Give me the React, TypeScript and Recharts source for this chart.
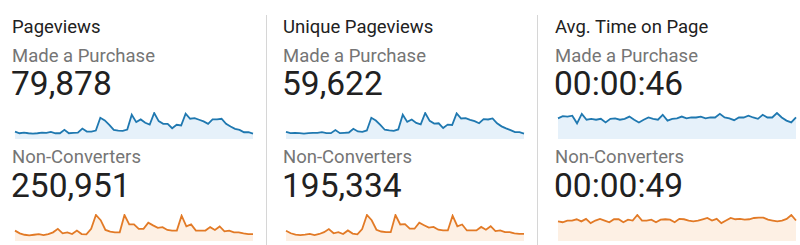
import { AreaChart, Area, XAxis, YAxis } from "recharts";

// daily values
const pageviewsPurchase = [22, 17, 19, 17, 16, 17, 19, 18, 21, 17, 17, 27, 17, 18, 19, 31, 22, 22, 25, 63, 55, 42, 27, 25, 24, 28, 72, 50, 58, 48, 43, 77, 53, 45, 45, 32, 42, 40, 75, 60, 62, 57, 52, 45, 58, 58, 60, 45, 37, 30, 27, 20, 20, 16];
const pageviewsNonConv = [30, 22, 18, 16, 18, 20, 17, 20, 25, 35, 22, 25, 20, 30, 20, 19, 35, 75, 60, 32, 27, 25, 25, 75, 48, 48, 35, 35, 53, 45, 38, 40, 32, 30, 30, 73, 42, 48, 30, 30, 30, 40, 32, 42, 28, 30, 25, 25, 22, 20, 20];
const uniquePurchase = [21, 17, 18, 17, 16, 17, 18, 18, 20, 17, 17, 26, 17, 18, 19, 30, 22, 21, 25, 62, 54, 41, 27, 25, 24, 28, 71, 50, 57, 47, 43, 76, 53, 45, 46, 32, 42, 41, 75, 60, 61, 56, 52, 46, 58, 57, 60, 46, 37, 31, 26, 20, 20, 16];
const uniqueNonConv = [29, 22, 18, 17, 18, 20, 17, 20, 25, 34, 22, 25, 20, 30, 21, 19, 34, 74, 59, 32, 27, 25, 25, 74, 47, 48, 35, 35, 52, 45, 38, 40, 32, 30, 30, 72, 42, 47, 30, 30, 30, 40, 32, 42, 28, 30, 25, 25, 22, 20, 20];
const timePurchase = [46, 51, 50, 52, 35, 56, 43, 45, 43, 45, 37, 45, 46, 43, 45, 50, 43, 37, 43, 48, 45, 43, 54, 41, 45, 46, 50, 46, 48, 48, 50, 46, 48, 48, 56, 48, 46, 42, 48, 48, 52, 48, 45, 54, 48, 48, 58, 48, 41, 37, 48];
const timeNonConv = [46, 44, 48, 48, 51, 46, 52, 42, 48, 52, 48, 44, 51, 51, 44, 50, 48, 61, 48, 48, 50, 44, 50, 51, 50, 44, 52, 51, 48, 46, 48, 51, 54, 48, 52, 42, 48, 54, 51, 52, 50, 51, 54, 55, 55, 50, 48, 46, 48, 52, 61, 48];

const titles = ["Pageviews", "Unique Pageviews", "Avg. Time on Page"];
const segments = ["Made a Purchase", "Non-Converters"];
const totals = [
  ["79,878", "250,951"],
  ["59,622", "195,334"],
  ["00:00:46", "00:00:49"],
];
const series = [
  [pageviewsPurchase, pageviewsNonConv],
  [uniquePurchase, uniqueNonConv],
  [timePurchase, timeNonConv],
];

const BLUE = "#1f78b0";
const BLUE_FILL = "#e6f1fa";
const ORANGE = "#e27a26";
const ORANGE_FILL = "#fdf0e4";

const panelLeft = [12, 283, 555];

function Spark({ values, stroke, fill, top, left }: { values: number[]; stroke: string; fill: string; top: number; left: number }) {
  const data = values.map((v, i) => ({ day: i, v }));
  return (
    <div style={{ position: "absolute", top, left }}>
      <AreaChart width={240} height={28} data={data} margin={{ top: 1, right: 1, bottom: 1, left: 1 }}>
        <XAxis dataKey="day" type="number" domain={["dataMin", "dataMax"]} hide />
        <YAxis type="number" domain={[0, "dataMax"]} hide />
        <Area
          type="linear"
          dataKey="v"
          stroke={stroke}
          strokeWidth={1.8}
          fill={fill}
          fillOpacity={1}
          dot={false}
          activeDot={false}
          isAnimationActive={false}
        />
      </AreaChart>
    </div>
  );
}

const text = (top: number, left: number, size: number, color: string) => ({
  position: "absolute" as const,
  top,
  left,
  fontSize: size,
  lineHeight: `${size}px`,
  color,
  whiteSpace: "nowrap" as const,
});

export default function App() {
  return (
    <div
      style={{
        position: "absolute",
        top: 0,
        left: 0,
        width: 800,
        height: 245,
        background: "#fff",
        fontFamily: "Roboto, sans-serif",
        overflow: "hidden",
      }}
    >
      {titles.map((t, p) => {
        const x = panelLeft[p];
        return (
          <div key={t}>
            <div style={text(17.5, x, 18.5, "#212121")}>{t}</div>
            <div style={text(46.5, x, 18.5, "#757575")}>{segments[0]}</div>
            <div style={text(67, x - 1, 33.5, "#212121")}>{totals[p][0]}</div>
            <Spark values={series[p][0]} stroke={BLUE} fill={BLUE_FILL} top={112} left={x + 2} />
            <div style={text(147.5, x, 18.5, "#757575")}>{segments[1]}</div>
            <div style={text(169, x - 1, 33.5, "#212121")}>{totals[p][1]}</div>
            <Spark values={series[p][1]} stroke={ORANGE} fill={ORANGE_FILL} top={214} left={x + 2} />
          </div>
        );
      })}
      <div style={{ position: "absolute", left: 266, top: 15, width: 1, height: 230, background: "#d6d6d6" }} />
      <div style={{ position: "absolute", left: 537, top: 15, width: 1, height: 230, background: "#d6d6d6" }} />
    </div>
  );
}
